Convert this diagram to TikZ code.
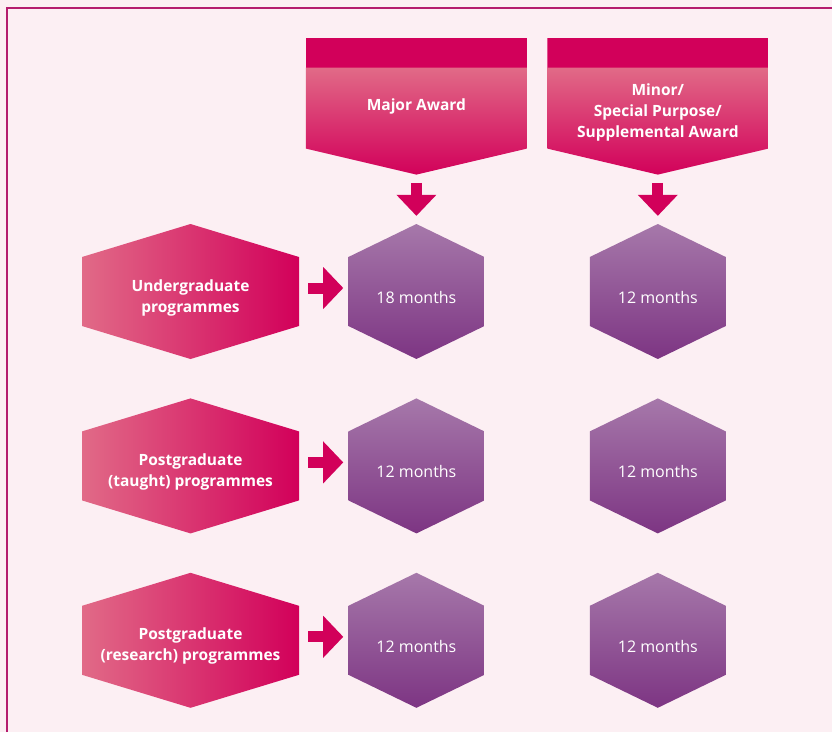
\documentclass[tikz,border=0pt]{standalone}
\usepackage{fontspec}
\setmainfont{Open Sans}
\usetikzlibrary{positioning, arrows.meta}

\definecolor{bgpink}{HTML}{FCEFF3}
\definecolor{framepink}{HTML}{B51C6E}
\definecolor{awardred}{HTML}{D2005A}
\definecolor{pinklight}{HTML}{E16A87}
\definecolor{purplelight}{HTML}{A678AA}
\definecolor{purpledark}{HTML}{7D3583}

% outline of the hexagons, inside a path picture
\newcommand{\hexpath}{(path picture bounding box.north)
  -- ([yshift=-33pt]path picture bounding box.north east)
  -- ([yshift=33pt]path picture bounding box.south east)
  -- (path picture bounding box.south)
  -- ([yshift=33pt]path picture bounding box.south west)
  -- ([yshift=-33pt]path picture bounding box.north west) -- cycle}
% strut that pushes the text a little down
\newcommand{\lift}{\rule{0pt}{24pt}}

\begin{document}
\begin{tikzpicture}[
        x=1pt, y=-1pt,
        course/.style={minimum width=217pt, minimum height=135pt, inner sep=0pt, text=white, align=center,
            font=\bfseries\fontsize{15.5}{21}\selectfont,
            path picture={\shade[left color=pinklight, right color=awardred] \hexpath;}},
        period/.style={minimum width=136pt, minimum height=135pt, inner sep=0pt, text=white, align=center,
            font=\fontsize{16}{21}\selectfont, execute at begin node={\lift},
            path picture={\shade[top color=purplelight, bottom color=purpledark] \hexpath;}},
        award/.style={minimum width=221pt, minimum height=137pt, inner sep=0pt, text=white, align=center,
            font=\bfseries\fontsize{15.5}{21}\selectfont,
            path picture={
                \fill[awardred] (path picture bounding box.north west) rectangle ([yshift=-30pt]path picture bounding box.north east);
                \shade[top color=pinklight, bottom color=awardred] ([yshift=-30pt]path picture bounding box.north west)
                    -- ([yshift=-30pt]path picture bounding box.north east)
                    -- ([yshift=26pt]path picture bounding box.south east)
                    -- (path picture bounding box.south)
                    -- ([yshift=26pt]path picture bounding box.south west) -- cycle;}},
        rarrow/.style={draw=awardred, line width=11pt, -{Triangle[width=42pt, length=20pt, line width=0pt, fill=awardred]}, shorten <=9pt, shorten >=5pt},
        darrow/.style={draw=awardred, line width=11pt, -{Triangle[width=40pt, length=21pt, line width=0pt, fill=awardred]}, shorten <=8pt, shorten >=8pt}
    ]

    % Background and frame
    \fill[bgpink] (0,0) rectangle (832,732);
    \useasboundingbox (0,0) rectangle (832,732);
    \draw[framepink, line width=1.3pt] (7,732) -- (7,8) -- (832,8);

    % Nodes
    \node (ug) [course] at (190.5,291.5) {\lift Undergraduate\\programmes};
    \node (pgt) [course, below=39pt of ug] {\lift Postgraduate\\(taught) programmes};
    \node (pgr) [course, below=39pt of pgt] {\lift Postgraduate\\(research) programmes};

    \node (ug_major) [period, right=49pt of ug] {18 months};
    \node (pgt_major) [period, right=49pt of pgt] {12 months};
    \node (pgr_major) [period, right=49pt of pgr] {12 months};

    \node (ug_minor) [period, right=105pt of ug_major] {12 months};
    \node (pgt_minor) [period, right=105pt of pgt_major] {12 months};
    \node (pgr_minor) [period, right=105pt of pgr_major] {12 months};

    \node (major) [award, above=49pt of ug_major] {Major Award};
    \node (minor) [award, above=49pt of ug_minor] {\lift Minor/\\Special Purpose/\\Supplemental Award};

    % Arrows
    \draw [darrow] (major) -- (ug_major);
    \draw [darrow] (minor) -- (ug_minor);
    \draw [rarrow] ([yshift=3.5pt]ug.east) -- ([yshift=3.5pt]ug_major.west);
    \draw [rarrow] ([yshift=3.5pt]pgt.east) -- ([yshift=3.5pt]pgt_major.west);
    \draw [rarrow] ([yshift=3.5pt]pgr.east) -- ([yshift=3.5pt]pgr_major.west);

\end{tikzpicture}
\end{document}
